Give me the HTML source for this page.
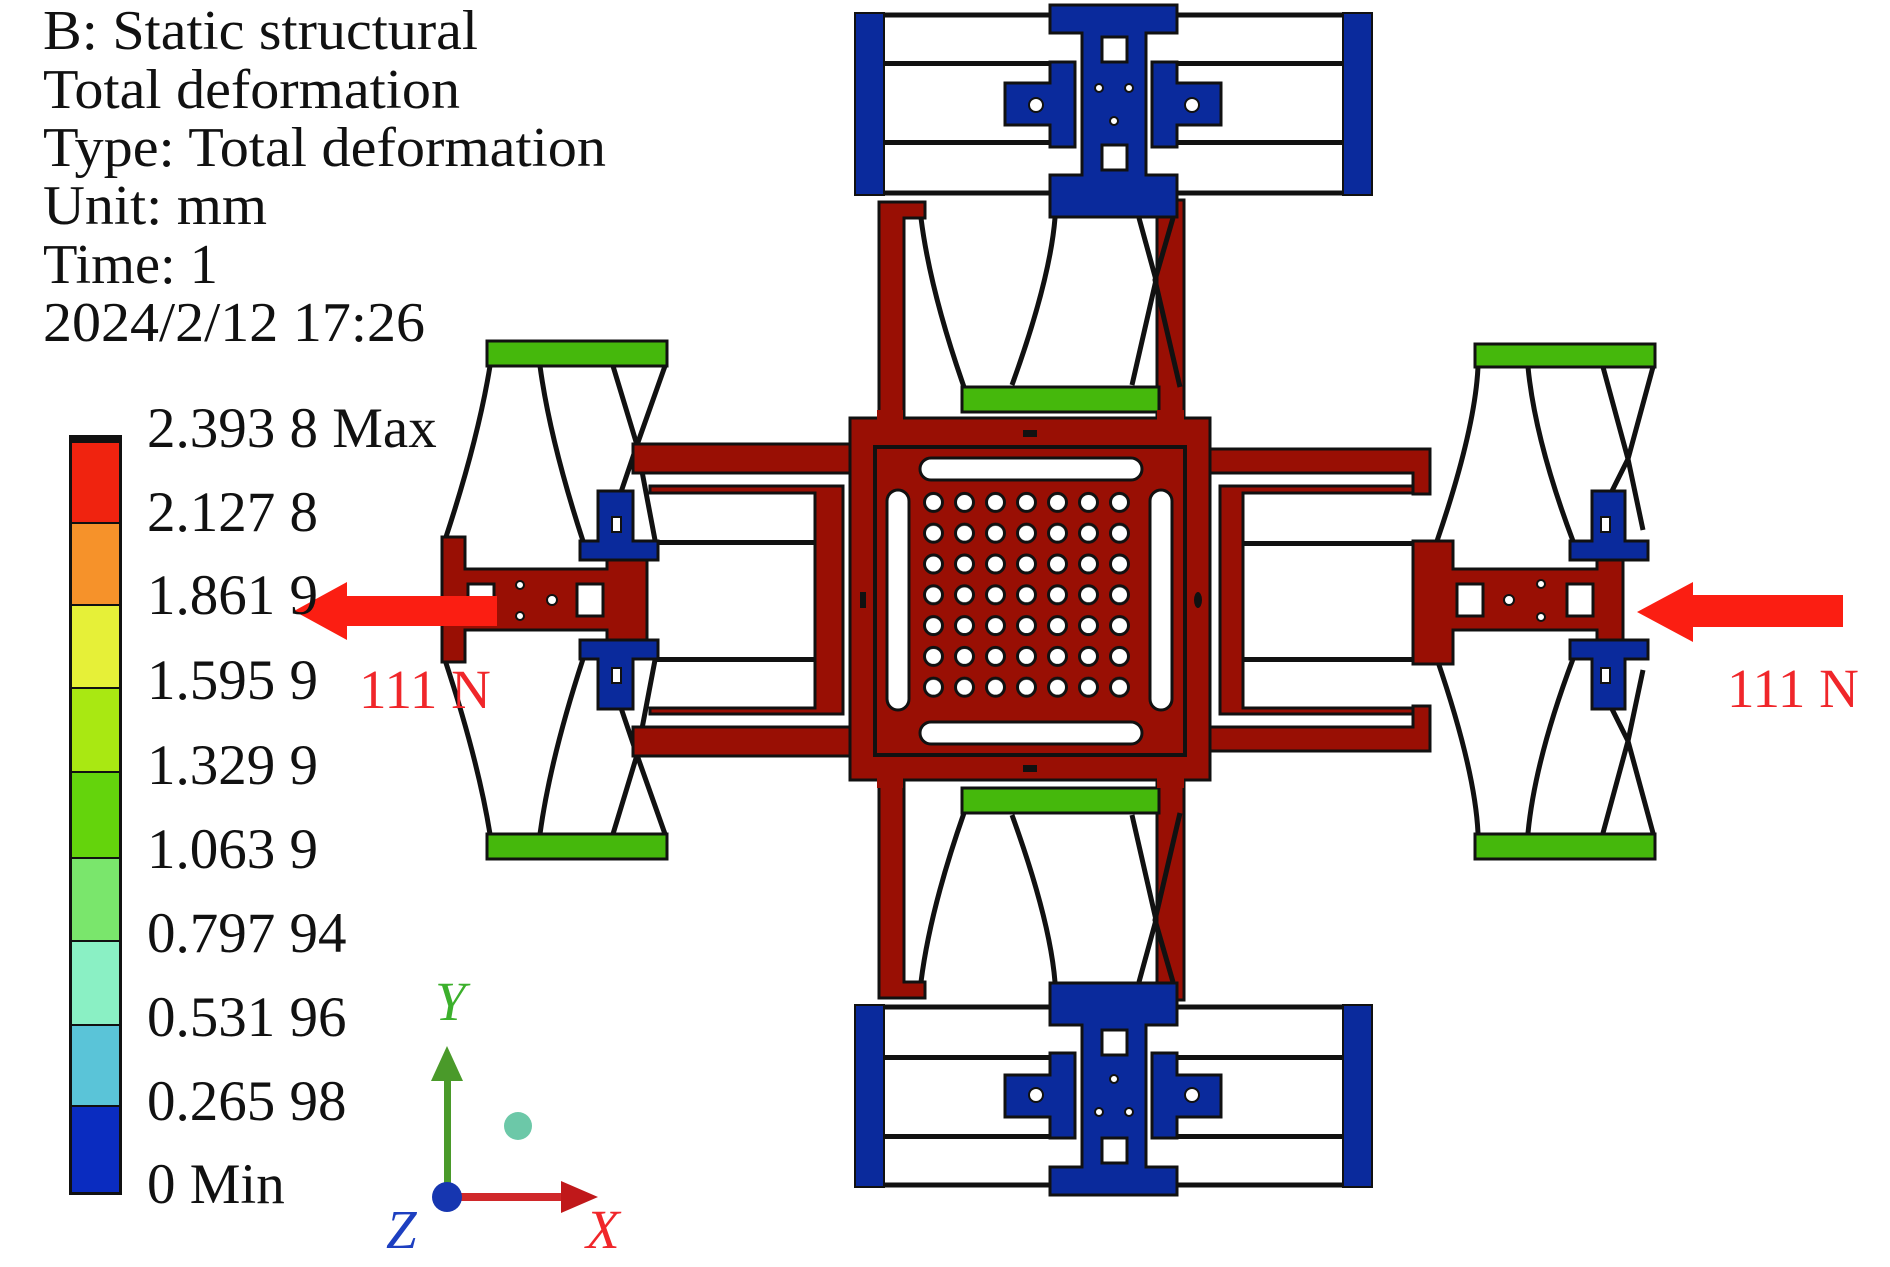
<!DOCTYPE html>
<html><head><meta charset="utf-8"><style>
html,body{margin:0;padding:0;background:#fff;}
svg{display:block;}
text{font-family:"Liberation Serif",serif;}
</style></head><body>
<svg width="1890" height="1267" viewBox="0 0 1890 1267" xmlns="http://www.w3.org/2000/svg">
<defs>
<pattern id="holes" patternUnits="userSpaceOnUse" x="918" y="487" width="31" height="30.8">
<circle cx="15.5" cy="15.4" r="9" fill="#fff" stroke="#111" stroke-width="3"/>
</pattern>
<g id="topmod">
 <path d="M879 202 H925 V218 H904 V420 H879 Z" fill="#990f04" stroke="#111" stroke-width="3"/>
 <rect x="1157" y="200" width="27" height="220" fill="#990f04" stroke="#111" stroke-width="3"/>
 <g fill="none" stroke="#111" stroke-width="5">
  <path d="M921 218 Q930 290 964 387"/>
  <path d="M1055 218 Q1050 280 1012 385"/>
  <path d="M1139 218 L1156 280 L1132 385"/>
  <path d="M1173 218 L1155 280 L1180 387"/>
 </g>
 <rect x="962" y="387" width="197" height="25" fill="#45b80c" stroke="#111" stroke-width="3"/>
 <rect x="857" y="15" width="512" height="178" fill="#fff" stroke="#111" stroke-width="5"/>
 <rect x="855" y="13" width="29" height="182" fill="#0a2a9c" stroke="#111" stroke-width="2"/>
 <rect x="1343" y="13" width="29" height="182" fill="#0a2a9c" stroke="#111" stroke-width="2"/>
 <rect x="884" y="61" width="170" height="5" fill="#111"/>
 <rect x="884" y="140" width="170" height="5" fill="#111"/>
 <rect x="1175" y="61" width="168" height="5" fill="#111"/>
 <rect x="1175" y="140" width="168" height="5" fill="#111"/>
 <path d="M1050 62 H1075 V147 H1050 V125 H1005 V83 H1050 Z" fill="#0a2a9c" stroke="#111" stroke-width="3"/>
 <circle cx="1036" cy="105" r="7" fill="#fff" stroke="#111" stroke-width="2"/>
 <path d="M1177 62 H1152 V147 H1177 V125 H1221 V83 H1177 Z" fill="#0a2a9c" stroke="#111" stroke-width="3"/>
 <circle cx="1192" cy="105" r="7" fill="#fff" stroke="#111" stroke-width="2"/>
 <path d="M1050 5 H1177 V33 H1146 V175 H1177 V217 H1050 V175 H1082 V33 H1050 Z" fill="#0a2a9c" stroke="#111" stroke-width="3"/>
 <rect x="1102" y="37" width="25" height="25" fill="#fff" stroke="#111" stroke-width="3"/>
 <rect x="1102" y="145" width="25" height="25" fill="#fff" stroke="#111" stroke-width="3"/>
 <circle cx="1099" cy="88" r="4" fill="#fff" stroke="#111" stroke-width="2"/>
 <circle cx="1129" cy="88" r="4" fill="#fff" stroke="#111" stroke-width="2"/>
 <circle cx="1114" cy="121" r="4" fill="#fff" stroke="#111" stroke-width="2"/>
</g>
<g id="leftsp" fill="none" stroke="#111" stroke-width="5">
 <path d="M490 366 Q478 440 445 540"/>
 <path d="M540 366 Q550 440 583 541"/>
 <path d="M613 366 L637 445 L655 540"/>
 <path d="M665 366 L637 445 L620 495"/>
</g>
<g id="rightsp" fill="none" stroke="#111" stroke-width="5">
 <path d="M1478 367 Q1475 430 1437 541"/>
 <path d="M1528 367 Q1535 440 1573 541"/>
 <path d="M1603 367 L1628 459 L1643 530"/>
 <path d="M1653 367 L1628 459 L1610 495"/>
</g>
</defs>

<use href="#topmod"/>
<use href="#topmod" transform="translate(0,1200) scale(1,-1)"/>

<use href="#leftsp"/>
<use href="#leftsp" transform="translate(0,1200) scale(1,-1)"/>
<rect x="487" y="341" width="180" height="25" fill="#45b80c" stroke="#111" stroke-width="3"/>
<rect x="487" y="834" width="180" height="25" fill="#45b80c" stroke="#111" stroke-width="3"/>
<path d="M633 444 H852 V473 H633 Z" fill="#990f04" stroke="#111" stroke-width="3"/>
<path d="M633 727 H852 V756 H633 Z" fill="#990f04" stroke="#111" stroke-width="3"/>
<path d="M650 486 H843 V714 H650 V708 H815 V493 H650 Z" fill="#990f04" stroke="#111" stroke-width="3"/>
<rect x="653" y="540" width="162" height="5" fill="#111"/>
<rect x="653" y="657" width="162" height="5" fill="#111"/>
<path d="M442 537 H465 V569 H607 V559 H647 V641 H607 V630 H465 V662 H442 Z" fill="#990f04" stroke="#111" stroke-width="3"/>
<rect x="468" y="584" width="26" height="32" fill="#fff" stroke="#111" stroke-width="3"/>
<rect x="577" y="584" width="26" height="32" fill="#fff" stroke="#111" stroke-width="3"/>
<circle cx="520" cy="585" r="4" fill="#fff" stroke="#111" stroke-width="2"/>
<circle cx="520" cy="616" r="4" fill="#fff" stroke="#111" stroke-width="2"/>
<circle cx="552" cy="600" r="5" fill="#fff" stroke="#111" stroke-width="2"/>
<path d="M598 491 H633 V541 H658 V560 H580 V541 H598 Z" fill="#0a2a9c" stroke="#111" stroke-width="3"/>
<rect x="612" y="517" width="9" height="15" fill="#fff" stroke="#111" stroke-width="2"/>
<path d="M598 709 H633 V659 H658 V640 H580 V659 H598 Z" fill="#0a2a9c" stroke="#111" stroke-width="3"/>
<rect x="612" y="668" width="9" height="15" fill="#fff" stroke="#111" stroke-width="2"/>

<use href="#rightsp"/>
<use href="#rightsp" transform="translate(0,1200) scale(1,-1)"/>
<rect x="1475" y="344" width="180" height="23" fill="#45b80c" stroke="#111" stroke-width="3"/>
<rect x="1475" y="834" width="180" height="25" fill="#45b80c" stroke="#111" stroke-width="3"/>
<path d="M1208 449 H1430 V494 H1413 V473 H1208 Z" fill="#990f04" stroke="#111" stroke-width="3"/>
<path d="M1208 751 H1430 V706 H1413 V727 H1208 Z" fill="#990f04" stroke="#111" stroke-width="3"/>
<path d="M1413 486 H1220 V714 H1413 V708 H1243 V493 H1413 Z" fill="#990f04" stroke="#111" stroke-width="3"/>
<rect x="1243" y="541" width="170" height="5" fill="#111"/>
<rect x="1243" y="657" width="170" height="5" fill="#111"/>
<path d="M1413 541 H1453 V569 H1597 V560 H1623 V640 H1597 V630 H1453 V664 H1413 Z" fill="#990f04" stroke="#111" stroke-width="3"/>
<rect x="1457" y="584" width="26" height="32" fill="#fff" stroke="#111" stroke-width="3"/>
<rect x="1567" y="584" width="26" height="32" fill="#fff" stroke="#111" stroke-width="3"/>
<circle cx="1509" cy="600" r="5" fill="#fff" stroke="#111" stroke-width="2"/>
<circle cx="1541" cy="584" r="4" fill="#fff" stroke="#111" stroke-width="2"/>
<circle cx="1541" cy="617" r="4" fill="#fff" stroke="#111" stroke-width="2"/>
<path d="M1592 491 H1625 V541 H1648 V560 H1570 V541 H1592 Z" fill="#0a2a9c" stroke="#111" stroke-width="3"/>
<rect x="1601" y="517" width="9" height="15" fill="#fff" stroke="#111" stroke-width="2"/>
<path d="M1592 709 H1625 V659 H1648 V640 H1570 V659 H1592 Z" fill="#0a2a9c" stroke="#111" stroke-width="3"/>
<rect x="1601" y="668" width="9" height="15" fill="#fff" stroke="#111" stroke-width="2"/>

<rect x="850" y="418" width="360" height="362" fill="#990f04" stroke="#111" stroke-width="3"/>
<rect x="877" y="410" width="26" height="10" fill="#990f04"/>
<rect x="1157" y="410" width="27" height="10" fill="#990f04"/>
<rect x="877" y="778" width="26" height="10" fill="#990f04"/>
<rect x="1157" y="778" width="27" height="10" fill="#990f04"/>
<rect x="875" y="447" width="310" height="308" fill="none" stroke="#111" stroke-width="4"/>
<rect x="920" y="458" width="222" height="22" rx="11" fill="#fff" stroke="#111" stroke-width="3"/>
<rect x="920" y="722" width="222" height="22" rx="11" fill="#fff" stroke="#111" stroke-width="3"/>
<rect x="887" y="490" width="22" height="220" rx="11" fill="#fff" stroke="#111" stroke-width="3"/>
<rect x="1150" y="490" width="22" height="220" rx="11" fill="#fff" stroke="#111" stroke-width="3"/>
<rect x="918" y="487" width="217" height="216" fill="url(#holes)"/>
<rect x="1023" y="430" width="14" height="7" fill="#111"/>
<rect x="1023" y="765" width="14" height="7" fill="#111"/>
<rect x="860" y="592" width="6" height="16" fill="#111"/>
<ellipse cx="1198" cy="600" rx="4" ry="8" fill="#111"/>

<path d="M497 596 H347 V582 L294 611 L347 640 V626 H497 Z" fill="#fb1e12"/>
<path d="M1843 595 H1693 V582 L1637 612 L1693 642 V627 H1843 Z" fill="#fb1e12"/>
<text x="359" y="708" font-size="55" fill="#f0262a">111 N</text>
<text x="1727" y="707" font-size="55" fill="#f0262a">111 N</text>

<g font-size="56" fill="#111">
<text x="43" y="49" textLength="435" lengthAdjust="spacingAndGlyphs">B: Static structural</text>
<text x="43" y="108" textLength="417" lengthAdjust="spacingAndGlyphs">Total deformation</text>
<text x="43" y="166" textLength="563" lengthAdjust="spacingAndGlyphs">Type: Total deformation</text>
<text x="43" y="224" textLength="224" lengthAdjust="spacingAndGlyphs">Unit: mm</text>
<text x="43" y="283" textLength="175" lengthAdjust="spacingAndGlyphs">Time: 1</text>
<text x="43" y="341" textLength="382" lengthAdjust="spacingAndGlyphs">2024/2/12 17:26</text>
</g>

<rect x="69" y="435" width="53" height="760" fill="#111"/>
<rect x="72" y="443" width="47" height="79" fill="#f0230f"/>
<rect x="72" y="524" width="47" height="80" fill="#f6922a"/>
<rect x="72" y="606" width="47" height="81" fill="#e6f038"/>
<rect x="72" y="689" width="47" height="82" fill="#a9e812"/>
<rect x="72" y="773" width="47" height="84" fill="#64d40c"/>
<rect x="72" y="859" width="47" height="81" fill="#7ae66c"/>
<rect x="72" y="942" width="47" height="82" fill="#8af0c4"/>
<rect x="72" y="1026" width="47" height="79" fill="#5ac4d8"/>
<rect x="72" y="1107" width="47" height="85" fill="#0a2cc0"/>
<g font-size="57" fill="#111">
<text x="147" y="447">2.393 8 Max</text>
<text x="147" y="531">2.127 8</text>
<text x="147" y="614">1.861 9</text>
<text x="147" y="699">1.595 9</text>
<text x="147" y="784">1.329 9</text>
<text x="147" y="868">1.063 9</text>
<text x="147" y="952">0.797 94</text>
<text x="147" y="1036">0.531 96</text>
<text x="147" y="1120">0.265 98</text>
<text x="147" y="1203">0 Min</text>
</g>

<rect x="444" y="1078" width="7" height="120" fill="#4a9a2a"/>
<path d="M431 1081 L447 1046 L463 1081 Z" fill="#4a9a2a"/>
<rect x="447" y="1193" width="118" height="8" fill="#d0282a"/>
<path d="M561 1181 L598 1197 L561 1213 Z" fill="#c0181a"/>
<circle cx="447" cy="1197" r="15" fill="#1636b0"/>
<circle cx="518" cy="1126" r="14" fill="#6cc8a8"/>
<g font-size="55" font-style="italic">
<text x="435" y="1020" fill="#3cb02c">Y</text>
<text x="386" y="1248" fill="#1d3fc0">Z</text>
<text x="586" y="1248" fill="#f0262a">X</text>
</g>
</svg>
</body></html>
